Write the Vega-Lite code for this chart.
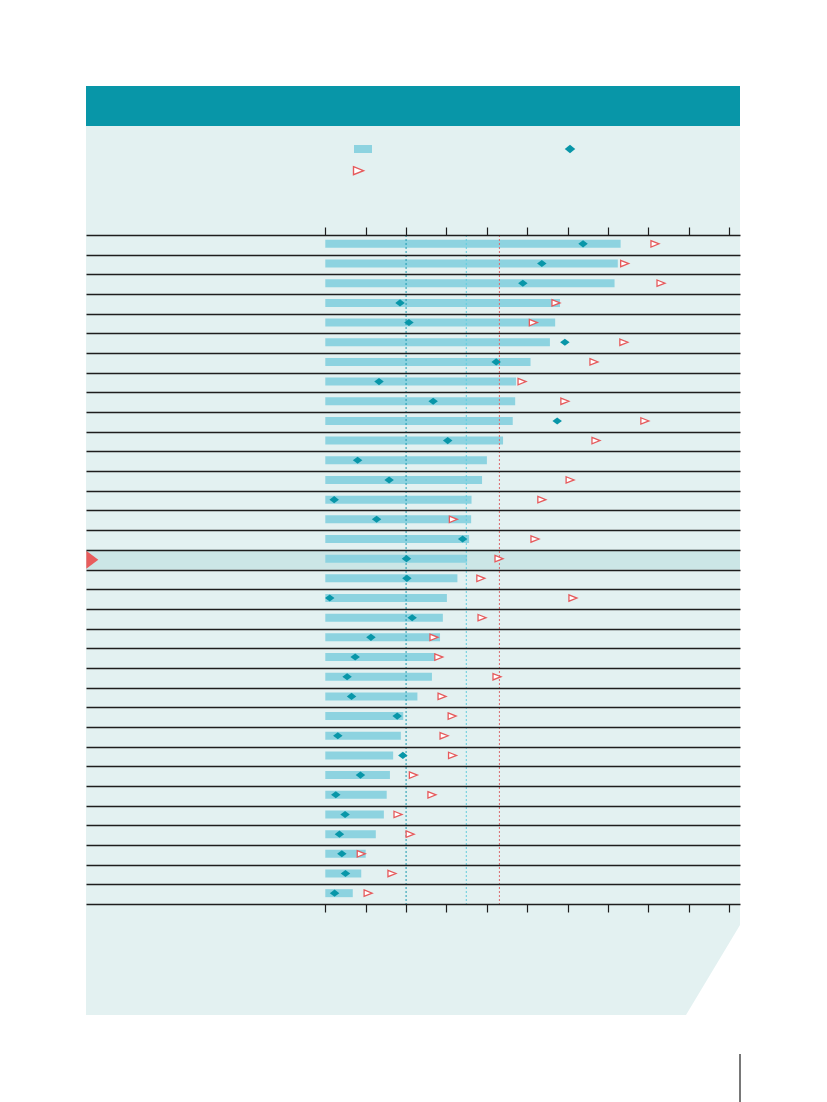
{
  "$schema": "https://vega.github.io/schema/vega-lite/v6.json",
  "autosize": "none",
  "width": 654,
  "height": 929,
  "padding": {"left": 86, "top": 86, "right": 87, "bottom": 87},
  "background": "#ffffff",
  "config": {"view": {"stroke": null}},
  "resolve": {"scale": {"x": "shared", "y": "shared"}, "axis": {"x": "independent", "y": "independent"}},
  "datasets": {
    "rows": [
      {"r": 1, "bar": 73.1, "dia": 63.8, "tri": 81.6},
      {"r": 2, "bar": 72.4, "dia": 53.6, "tri": 74.1},
      {"r": 3, "bar": 71.6, "dia": 48.9, "tri": 83.1},
      {"r": 4, "bar": 58.1, "dia": 18.5, "tri": 57.1},
      {"r": 5, "bar": 56.9, "dia": 20.7, "tri": 51.5},
      {"r": 6, "bar": 55.6, "dia": 59.3, "tri": 73.9},
      {"r": 7, "bar": 50.8, "dia": 42.3, "tri": 66.5},
      {"r": 8, "bar": 47.2, "dia": 13.3, "tri": 48.7},
      {"r": 9, "bar": 47.0, "dia": 26.7, "tri": 59.3},
      {"r": 10, "bar": 46.4, "dia": 57.4, "tri": 79.1},
      {"r": 11, "bar": 44.0, "dia": 30.3, "tri": 67.0},
      {"r": 12, "bar": 40.0, "dia": 8.0, "tri": null},
      {"r": 13, "bar": 38.8, "dia": 15.8, "tri": 60.6},
      {"r": 14, "bar": 36.2, "dia": 2.2, "tri": 53.6},
      {"r": 15, "bar": 36.1, "dia": 12.7, "tri": 31.7},
      {"r": 16, "bar": 35.6, "dia": 34.0, "tri": 51.9},
      {"r": 17, "bar": 35.1, "dia": 20.1, "tri": 43.0},
      {"r": 18, "bar": 32.7, "dia": 20.2, "tri": 38.5},
      {"r": 19, "bar": 30.1, "dia": 1.1, "tri": 61.3},
      {"r": 20, "bar": 29.1, "dia": 21.5, "tri": 38.8},
      {"r": 21, "bar": 28.4, "dia": 11.3, "tri": 26.9},
      {"r": 22, "bar": 27.2, "dia": 7.4, "tri": 28.1},
      {"r": 23, "bar": 26.4, "dia": 5.4, "tri": 42.5},
      {"r": 24, "bar": 22.8, "dia": 6.5, "tri": 28.9},
      {"r": 25, "bar": 19.3, "dia": 17.8, "tri": 31.4},
      {"r": 26, "bar": 18.7, "dia": 3.1, "tri": 29.4},
      {"r": 27, "bar": 16.8, "dia": 19.2, "tri": 31.5},
      {"r": 28, "bar": 16.0, "dia": 8.7, "tri": 21.8},
      {"r": 29, "bar": 15.2, "dia": 2.6, "tri": 26.4},
      {"r": 30, "bar": 14.5, "dia": 4.9, "tri": 18.0},
      {"r": 31, "bar": 12.5, "dia": 3.5, "tri": 21.0},
      {"r": 32, "bar": 10.0, "dia": 4.1, "tri": 8.9},
      {"r": 33, "bar": 8.9, "dia": 5.0, "tri": 16.5},
      {"r": 34, "bar": 6.8, "dia": 2.3, "tri": 10.6}
    ],
    "refs": [
      {"v": 20, "from": 0.5, "to": 34.5, "kind": "a"},
      {"v": 34.9, "from": 0.5, "to": 34.5, "kind": "b"},
      {"v": 43.1, "from": 0.5, "to": 34.5, "kind": "c"}
    ],
    "panel": [
      {"v": -59.23, "top": -7.073, "bot": 40.141},
      {"v": 89.28, "top": -7.073, "bot": 40.141},
      {"v": 102.65, "top": -7.073, "bot": 35.57}
    ]
  },
  "layer": [
    {
      "data": {"name": "panel"},
      "mark": {"type": "area", "fill": "#E3F1F1", "interpolate": "linear", "orient": "vertical"},
      "encoding": {
        "x": {"field": "v", "type": "quantitative", "scale": {"domain": [-59.23, 102.65], "nice": false, "padding": 0}, "axis": null},
        "y": {"field": "top", "type": "quantitative", "scale": {"domain": [-7.073, 40.141], "nice": false, "reverse": true, "padding": 0}, "axis": null},
        "y2": {"field": "bot"}
      }
    },
    {
      "data": {"values": [{"a": -59.23, "b": 102.65, "c": -7.073, "d": -5.04}]},
      "mark": {"type": "rect", "fill": "#0896A8"},
      "encoding": {
        "x": {"field": "a", "type": "quantitative", "axis": null},
        "x2": {"field": "b"},
        "y": {"field": "c", "type": "quantitative", "axis": null},
        "y2": {"field": "d"}
      }
    },
    {
      "data": {"values": [{"a": -59.23, "b": 102.65, "c": 16.5, "d": 17.5}]},
      "mark": {"type": "rect", "fill": "#CCE6E6"},
      "encoding": {
        "x": {"field": "a", "type": "quantitative", "axis": null},
        "x2": {"field": "b"},
        "y": {"field": "c", "type": "quantitative", "axis": null},
        "y2": {"field": "d"}
      }
    },
    {
      "data": {"name": "rows"},
      "mark": {"type": "bar", "orient": "horizontal", "fill": "#8DD3E0", "size": 8, "yOffset": -1},
      "encoding": {
        "x": {"field": "bar", "type": "quantitative",
          "axis": {"orient": "top", "offset": -149, "values": [0, 10, 20, 30, 40, 50, 60, 70, 80, 90, 100],
            "labels": false, "domain": false, "grid": false, "title": null, "tickSize": 8, "tickColor": "#1e1e1e", "tickWidth": 1.2, "zindex": 1}},
        "y": {"field": "r", "type": "quantitative",
          "axis": {"orient": "left", "values": [0.5, 1.5, 2.5, 3.5, 4.5, 5.5, 6.5, 7.5, 8.5, 9.5, 10.5, 11.5, 12.5, 13.5, 14.5, 15.5, 16.5, 17.5, 18.5, 19.5, 20.5, 21.5, 22.5, 23.5, 24.5, 25.5, 26.5, 27.5, 28.5, 29.5, 30.5, 31.5, 32.5, 33.5, 34.5],
            "labels": false, "domain": false, "ticks": false, "title": null, "grid": true, "gridColor": "#1e1e1e", "gridWidth": 1.3, "gridOpacity": 1, "zindex": 1}}
      }
    },
    {
      "data": {"name": "refs"},
      "mark": {"type": "rule", "strokeWidth": 1, "strokeDash": [2, 2]},
      "encoding": {
        "x": {"field": "v", "type": "quantitative", "axis": null},
        "y": {"field": "from", "type": "quantitative", "axis": null},
        "y2": {"field": "to"},
        "color": {"field": "kind", "type": "nominal", "scale": {"domain": ["a", "b", "c"], "range": ["#1A98AE", "#62CCDE", "#DA6A6D"]}, "legend": null}
      }
    },
    {
      "data": {"name": "rows"},
      "mark": {"type": "point", "shape": "M-1,0L0,-0.75L1,0L0,0.75Z", "filled": true, "fill": "#0896A8", "opacity": 1, "size": 90, "yOffset": -1},
      "encoding": {
        "x": {"field": "dia", "type": "quantitative",
          "axis": {"orient": "bottom", "offset": -111, "values": [0, 10, 20, 30, 40, 50, 60, 70, 80, 90, 100],
            "labels": false, "domain": false, "grid": false, "title": null, "tickSize": 8, "tickColor": "#1e1e1e", "tickWidth": 1.2, "zindex": 1}},
        "y": {"field": "r", "type": "quantitative", "axis": null}
      }
    },
    {
      "data": {"name": "rows"},
      "mark": {"type": "point", "shape": "M-1,-0.8L1,0L-1,0.8Z", "filled": false, "fill": "#ffffff", "fillOpacity": 1, "stroke": "#E65A5C", "strokeWidth": 1.3, "opacity": 1, "size": 64, "yOffset": -1},
      "encoding": {
        "x": {"field": "tri", "type": "quantitative", "axis": null},
        "y": {"field": "r", "type": "quantitative", "axis": null}
      }
    },
    {
      "data": {"values": [{"a": 7.1, "b": 11.56, "c": -3.87}]},
      "mark": {"type": "rule", "stroke": "#8DD3E0", "strokeWidth": 8, "strokeCap": "butt"},
      "encoding": {
        "x": {"field": "a", "type": "quantitative", "axis": null},
        "x2": {"field": "b"},
        "y": {"field": "c", "type": "quantitative", "axis": null}
      }
    },
    {
      "data": {"values": [{"a": 60.57, "c": -3.87}]},
      "mark": {"type": "point", "shape": "M-1,0L0,-0.8L1,0L0,0.8Z", "filled": true, "fill": "#0896A8", "opacity": 1, "size": 110},
      "encoding": {
        "x": {"field": "a", "type": "quantitative", "axis": null},
        "y": {"field": "c", "type": "quantitative", "axis": null}
      }
    },
    {
      "data": {"values": [{"a": 8.22, "c": -2.77}]},
      "mark": {"type": "point", "shape": "M-1,-0.8L1,0L-1,0.8Z", "filled": false, "fill": "#ffffff", "fillOpacity": 1, "stroke": "#E65A5C", "strokeWidth": 1.4, "opacity": 1, "size": 100},
      "encoding": {
        "x": {"field": "a", "type": "quantitative", "axis": null},
        "y": {"field": "c", "type": "quantitative", "axis": null}
      }
    },
    {
      "data": {"values": [{"a": -57.67, "c": 17}]},
      "mark": {"type": "point", "shape": "M-0.667,-1L0.667,0L-0.667,1Z", "filled": true, "fill": "#E85C5C", "opacity": 1, "size": 324},
      "encoding": {
        "x": {"field": "a", "type": "quantitative", "axis": null},
        "y": {"field": "c", "type": "quantitative", "axis": null}
      }
    },
    {
      "data": {"values": [{"a": 102.65, "c": 42.12, "d": 44.6}]},
      "mark": {"type": "rule", "stroke": "#1e1e1e", "strokeWidth": 1.2},
      "encoding": {
        "x": {"field": "a", "type": "quantitative", "axis": null},
        "y": {"field": "c", "type": "quantitative", "axis": null},
        "y2": {"field": "d"}
      }
    }
  ]
}
